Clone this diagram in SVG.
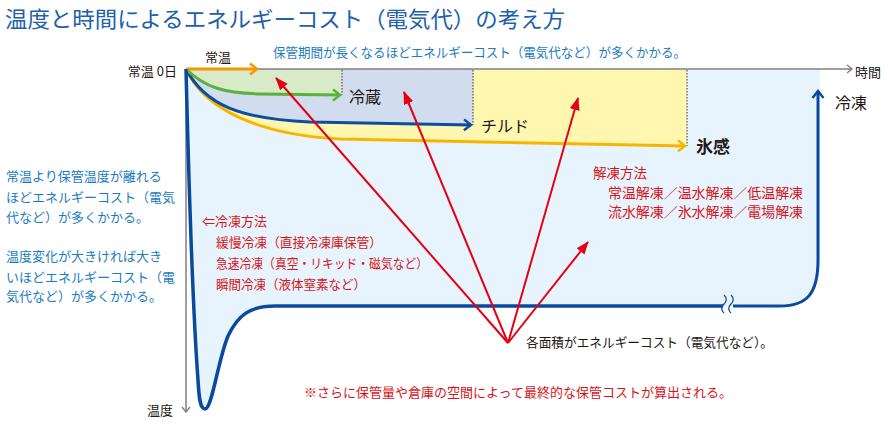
<svg xmlns="http://www.w3.org/2000/svg" width="888" height="426" viewBox="0 0 888 426">
<style>
text{font-family:"Noto Sans CJK JP","Noto Sans",sans-serif;}
.t13{font-size:13px;}
.blk{fill:#231815;}
.blue{fill:#1a7cc1;}
.red{fill:#d7141a;}
.dot{stroke:#333;stroke-width:1;stroke-dasharray:1.5 1.5;fill:none;}
.redl{stroke:#e60012;stroke-width:2;fill:none;marker-end:url(#ar);}
</style>
<defs>
<marker id="ax" markerUnits="userSpaceOnUse" markerWidth="10" markerHeight="12" refX="7" refY="6" orient="auto"><path d="M2,2 L7,6 L2,10" fill="none" stroke="#808080" stroke-width="1.5"/></marker>
<marker id="ao" markerUnits="userSpaceOnUse" markerWidth="12" markerHeight="14" refX="9" refY="7" orient="auto"><path d="M2,1.5 L9,7 L2,12.5" fill="none" stroke="#f39800" stroke-width="2.5"/></marker>
<marker id="ag" markerUnits="userSpaceOnUse" markerWidth="12" markerHeight="14" refX="9" refY="7" orient="auto"><path d="M2,1.5 L9,7 L2,12.5" fill="none" stroke="#5bb23a" stroke-width="2.5"/></marker>
<marker id="ab" markerUnits="userSpaceOnUse" markerWidth="12" markerHeight="14" refX="9" refY="7" orient="auto"><path d="M2,1.5 L9,7 L2,12.5" fill="none" stroke="#0d4da1" stroke-width="2.5"/></marker>
<marker id="ay" markerUnits="userSpaceOnUse" markerWidth="12" markerHeight="14" refX="9" refY="7" orient="auto"><path d="M2,1.5 L9,7 L2,12.5" fill="none" stroke="#f8b500" stroke-width="2.5"/></marker>
<marker id="af" markerUnits="userSpaceOnUse" markerWidth="12" markerHeight="14" refX="9" refY="7" orient="auto"><path d="M2,1.5 L9,7 L2,12.5" fill="none" stroke="#0a4a9e" stroke-width="2.5"/></marker>
<marker id="ar" markerUnits="userSpaceOnUse" markerWidth="14" markerHeight="12" refX="12" refY="5" orient="auto"><path d="M0,0 L13,5 L0,10 z" fill="#e60012"/></marker>
</defs>

<g id="title"><text x="5" y="27" font-size="22" fill="#2060ac" textLength="560" lengthAdjust="spacingAndGlyphs">温度と時間によるエネルギーコスト（電気代）の考え方</text></g>

<g id="regions">
<path id="r-freeze" d="M186,69 L820,69 L820,260 C820,295 806,306 780,306 L275,306 C250,306 238,315 228,336 C218,360 212,409 205,409 C200,409 199,398 198,380 C192,300 188,150 186,69 Z" fill="#e7f4fd"/>
<path id="r-hyokan" d="M186,69 L687,69 L687,146 L684,146 L340,139 C260,135 205,110 186,69 Z" fill="#fff6b0"/>
<path id="r-chilled" d="M186,69 L473,69 L473,125 L470,125 L310,122 C240,119 205,105 186,69 Z" fill="#d2dcef"/>
<path id="r-cold" d="M186,69 L342,69 L342,95 L338,95 L260,94 C225,93 205,88 186,69 Z" fill="#d8eac8"/>
</g>

<g id="connectors">
<line x1="342" y1="70" x2="342" y2="95" class="dot"/>
<line x1="473" y1="70" x2="473" y2="125" class="dot"/>
<line x1="687" y1="70" x2="687" y2="146" class="dot"/>
<line id="axis-x" x1="186" y1="69" x2="852" y2="69" stroke="#808080" stroke-width="1.5" marker-end="url(#ax)"/>
<line id="axis-y" x1="186" y1="69" x2="186" y2="412" stroke="#808080" stroke-width="1.5" marker-end="url(#ax)"/>
<path id="c-hyokan" d="M186,69 C205,110 260,135 340,139 L685,146" fill="none" stroke="#f8b500" stroke-width="3" marker-end="url(#ay)"/>
<path id="c-chilled" d="M186,69 C205,105 240,119 310,122 L471,125" fill="none" stroke="#0d4da1" stroke-width="3" marker-end="url(#ab)"/>
<path id="c-cold" d="M186,69 C205,88 225,93 260,94 L340,95" fill="none" stroke="#5bb23a" stroke-width="3" marker-end="url(#ag)"/>
<line id="c-room" x1="186" y1="69" x2="257" y2="69" stroke="#f39800" stroke-width="3" marker-end="url(#ao)"/>
<path id="c-freeze1" d="M186,69 C188,150 192,300 198,380 C199,398 200,409 205,409 C212,409 218,360 228,336 C238,315 250,306 275,306 L723,306" fill="none" stroke="#0a4a9e" stroke-width="3.5"/>
<path id="c-freeze2" d="M733,306 L780,306 C806,306 818,295 818,260 L818,91" fill="none" stroke="#0a4a9e" stroke-width="3" marker-end="url(#af)"/>
<path d="M724,295 c3,3 3,6 0,9 c-3,3 -3,6 0,9 M731,295 c3,3 3,6 0,9 c-3,3 -3,6 0,9" fill="none" stroke="#0a4a9e" stroke-width="1.3"/>
<line class="redl" x1="508" y1="343" x2="276" y2="78"/>
<line class="redl" x1="508" y1="343" x2="404" y2="92"/>
<line class="redl" x1="508" y1="343" x2="578" y2="98"/>
<line class="redl" x1="508" y1="343" x2="588" y2="242"/>
</g>

<g id="axis-labels" class="t13 blk">
<text x="177" y="76" text-anchor="end">常温 0日</text>
<text x="855" y="77">時間</text>
<text x="147" y="415">温度</text>
</g>

<g id="node-room"><text x="205" y="62" class="t13 blk">常温</text></g>
<g id="node-cold"><text x="349" y="103" font-size="16" class="blk">冷蔵</text></g>
<g id="node-chilled"><text x="481" y="132" font-size="16" class="blk">チルド</text></g>
<g id="node-hyokan"><text x="696" y="153" font-size="17" font-weight="bold" class="blk">氷感</text></g>
<g id="node-freeze"><text x="835" y="109" font-size="16" class="blk">冷凍</text></g>

<g id="note-top"><text x="273" y="57" class="t13 blue" textLength="413" lengthAdjust="spacingAndGlyphs">保管期間が長くなるほどエネルギーコスト（電気代など）が多くかかる。</text></g>

<g id="note-left" class="t13 blue">
<text x="6" y="181">常温より保管温度が離れる</text>
<text x="6" y="202">ほどエネルギーコスト（電気</text>
<text x="6" y="222">代など）が多くかかる。</text>
<text x="6" y="261">温度変化が大きければ大き</text>
<text x="6" y="282">いほどエネルギーコスト（電</text>
<text x="6" y="301">気代など）が多くかかる。</text>
</g>

<g id="note-freeze-methods" class="t13 red">
<text x="202" y="226">⇐冷凍方法</text>
<text x="216" y="247" textLength="166" lengthAdjust="spacingAndGlyphs">緩慢冷凍（直接冷凍庫保管）</text>
<text x="216" y="268" textLength="212" lengthAdjust="spacingAndGlyphs">急速冷凍（真空・リキッド・磁気など）</text>
<text x="216" y="289" textLength="150" lengthAdjust="spacingAndGlyphs">瞬間冷凍（液体窒素など）</text>
</g>

<g id="note-thaw-methods" class="red" font-size="13.5">
<text x="593" y="178">解凍方法</text>
<text x="608" y="198" textLength="195" lengthAdjust="spacingAndGlyphs">常温解凍／温水解凍／低温解凍</text>
<text x="608" y="217" textLength="195" lengthAdjust="spacingAndGlyphs">流水解凍／氷水解凍／電場解凍</text>
</g>

<g id="note-area"><text x="526" y="347" class="t13 blk" textLength="247" lengthAdjust="spacingAndGlyphs">各面積がエネルギーコスト（電気代など）。</text></g>
<g id="note-bottom"><text x="304" y="397" class="t13 red">※さらに保管量や倉庫の空間によって最終的な保管コストが算出される。</text></g>
</svg>
